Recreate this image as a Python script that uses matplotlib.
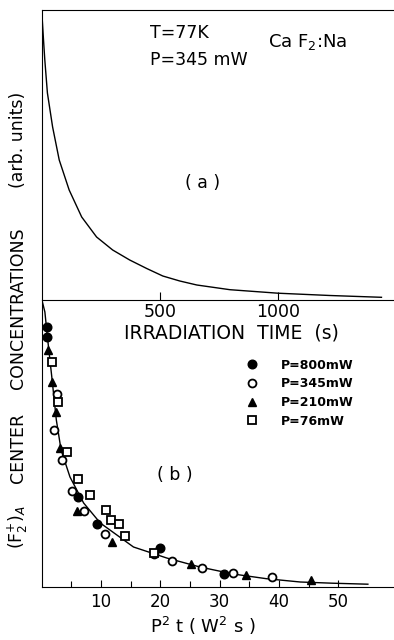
import matplotlib
matplotlib.use("Agg")
import matplotlib.pyplot as plt

# (a) decay under constant irradiation, T=77K, P=345 mW
t_irr = [1, 8.5, 14, 25, 47, 75, 117, 170, 233, 301, 373, 445, 513, 585,
         657, 797, 1000, 1220, 1438]
conc_a = [289, 260, 240, 207, 173, 140, 110, 83, 63, 50, 40, 31.5, 24, 19,
          15, 10.3, 6.8, 4.5, 2.7]

# (b) same concentration vs P^2 t for several pump powers
x800 = [1.0, 1.0, 6.2, 9.4, 20.0, 30.8]
y800 = [260, 250, 90, 63, 39.5, 13]
x345 = [2.6, 2.1, 3.5, 5.2, 7.2, 10.7, 19.0, 22.0, 27.0, 32.3, 38.9]
y345 = [193, 157, 127, 96.5, 76, 53, 33, 25.7, 18.7, 13.7, 9.7]
x210 = [1.1, 1.7, 2.5, 3.2, 6.0, 11.9, 25.2, 34.5, 45.4]
y210 = [237, 205, 175, 139, 76, 45, 23, 12, 7]
x76 = [1.8, 2.8, 4.3, 6.2, 8.1, 10.8, 11.7, 13.1, 14.0, 18.9]
y76 = [225, 185, 135, 108, 92, 77, 67, 63, 51, 34]

# smooth universal curve through the points
p2t = [0.07, 0.57, 1.05, 1.7, 2.5, 3.3, 4.8, 7.1, 9.9, 15.5, 21.1, 26.7,
       32.3, 37.9, 43.6, 49.0, 55.0]
conc_b = [287, 275, 247, 212, 167, 137, 110, 84, 64, 40, 29, 20,
          13, 8.3, 5, 3.8, 2.8]

W, H = 394, 640
fig = plt.figure(figsize=(W / 100, H / 100), dpi=100)

left = 41.5
ax_a = fig.add_axes([left / W, (H - 300) / H, (W - left) / W, 290 / H])
ax_b = fig.add_axes([left / W, (H - 587) / H, (W - left) / W, 287 / H])
ax_b.patch.set_visible(False)

lw = 1.0
for ax in (ax_a, ax_b):
    ax.spines['right'].set_visible(False)
    for s in ax.spines.values():
        s.set_linewidth(0.8)
    ax.set_yticks([])
ax_b.spines['top'].set_visible(False)

# panel (a)
ax_a.plot(t_irr, conc_a, color='black', lw=lw)
ax_a.set_xlim(0, 1491)
ax_a.set_ylim(0, 290)
ax_a.set_xticks([500, 1000])
ax_a.tick_params(axis='x', direction='in', length=6, width=0.8,
                 labelsize=12.5, pad=2)
ax_a.set_xlabel('IRRADIATION  TIME  (s)', fontsize=13.5)
ax_a.xaxis.set_label_coords(0.538, -0.082)
ax_a.text(0.308, 0.921, 'T=77K', fontsize=12.5, va='center',
          transform=ax_a.transAxes)
ax_a.text(0.308, 0.828, 'P=345 mW', fontsize=12.5, va='center',
          transform=ax_a.transAxes)
ax_a.text(0.643, 0.89, 'Ca F$_2$:Na', fontsize=13, va='center',
          transform=ax_a.transAxes)
ax_a.text(0.458, 0.403, '( a )', fontsize=12.5, va='center', ha='center',
          transform=ax_a.transAxes)

# panel (b)
ax_b.plot(p2t, conc_b, color='black', lw=lw, zorder=1)
ms = 6.2
ax_b.plot(x800, y800, 'o', color='black', ms=ms, label='P=800mW', zorder=3)
ax_b.plot(x345, y345, 'o', mfc='white', mec='black', mew=1.3, ms=ms - 0.5,
          label='P=345mW', zorder=3)
ax_b.plot(x210, y210, '^', color='black', ms=ms - 0.5, label='P=210mW',
          zorder=3)
ax_b.plot(x76, y76, 's', mfc='white', mec='black', mew=1.3, ms=ms - 0.8,
          label='P=76mW', zorder=3)
ax_b.set_xlim(0, 59.4)
ax_b.set_ylim(0, 287)
ax_b.set_xticks([10, 20, 30, 40, 50])
ax_b.set_xticks([5, 15, 25, 35, 45], minor=True)
ax_b.tick_params(axis='x', which='major', direction='in', length=5,
                 width=0.8, labelsize=12, pad=4)
ax_b.tick_params(axis='x', which='minor', direction='in', length=4,
                 width=0.8)
ax_b.set_xlabel('P$^2$ t ( W$^2$ s )', fontsize=13)
ax_b.xaxis.set_label_coords(0.458, -0.098)
ax_b.text(0.379, 0.39, '( b )', fontsize=12.5, va='center', ha='center',
          transform=ax_b.transAxes)

ax_b.legend(loc='upper left', bbox_to_anchor=(0.58, 0.795), frameon=False,
            borderpad=0, borderaxespad=0, handlelength=1.0,
            handletextpad=1.8, labelspacing=0.45, numpoints=1,
            prop={'weight': 'bold', 'size': 9})

# vertical axis title, word by word
ylab_words = ['(F$_2^{+}$)$_A$', 'CENTER', 'CONCENTRATIONS', '(arb. units)']
ylab_pos = [527, 448, 308, 140]
for word, py in zip(ylab_words, ylab_pos):
    fig.text(18 / W, 1 - py / H, word, rotation=90, ha='center',
             va='center', fontsize=12.5)

fig.savefig('out.png', dpi=100)
